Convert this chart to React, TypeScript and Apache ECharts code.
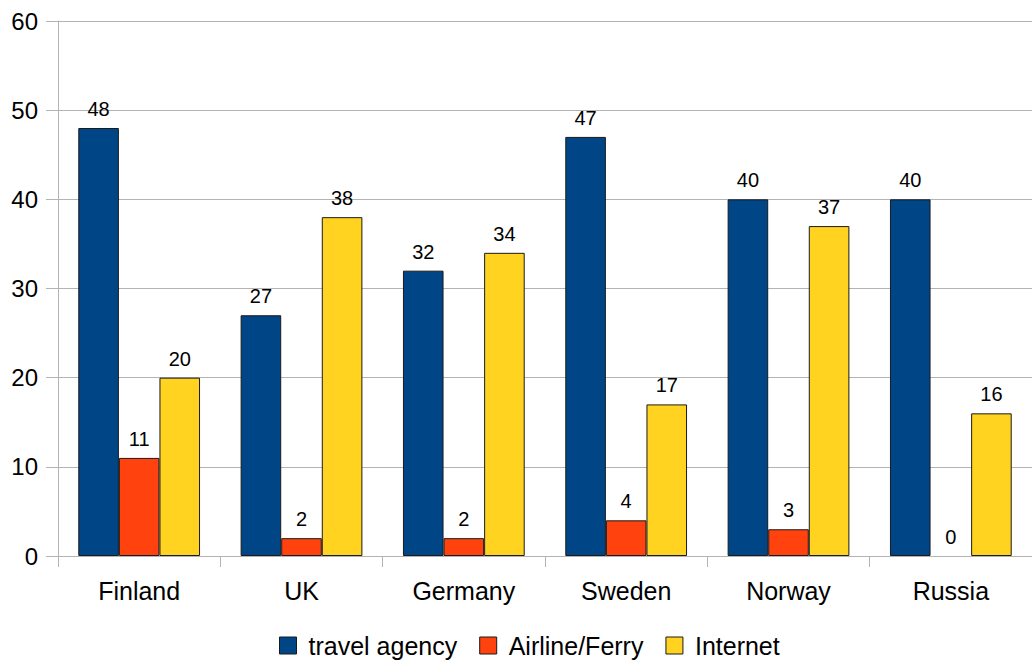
import React, { useEffect, useRef } from "react";
import * as echarts from "echarts";

const categories = ["Finland", "UK", "Germany", "Sweden", "Norway", "Russia"];
const travelAgency = [48, 27, 32, 47, 40, 40];
const airlineFerry = [11, 2, 2, 4, 3, 0];
const internet = [20, 38, 34, 17, 37, 16];
const seriesNames = ["travel agency", "Airline/Ferry", "Internet"];
const colors = ["#004586", "#ff420e", "#ffd320"];

export default function App() {
  const ref = useRef<HTMLDivElement>(null);
  useEffect(() => {
    if (!ref.current) return;
    const chart = echarts.init(ref.current, undefined, { renderer: "svg" });
    const font = "'Liberation Sans', Arial, sans-serif";
    const mk = (name: string, data: number[], color: string) => ({
      name,
      type: "bar",
      data: data.map((v) => (v === 0 ? { value: v, itemStyle: { borderWidth: 0 } } : v)),
      barGap: "0%",
      barCategoryGap: "25%",
      itemStyle: { color, borderColor: "#1a1a1a", borderWidth: 1 },
      label: {
        show: true,
        position: "top",
        distance: 9,
        color: "#000",
        fontSize: 20,
        fontFamily: font,
      },
    });
    chart.setOption({
      animation: false,
      textStyle: { fontFamily: font },
      grid: { left: 58, width: 978, top: 21, bottom: 108, containLabel: false },
      legend: {
        data: seriesNames,
        left: 274,
        top: 628,
        itemWidth: 17,
        itemHeight: 17,
        itemGap: 22,
        icon: "rect",
        itemStyle: { borderColor: "#1a1a1a", borderWidth: 1 },
        textStyle: { fontSize: 25, color: "#000", fontFamily: font, padding: [0, 0, 0, 7] },
      },
      xAxis: {
        type: "category",
        data: categories,
        axisLine: { show: true, lineStyle: { color: "#b3b3b3", width: 1 } },
        axisTick: { show: true, length: 11, interval: 0, alignWithLabel: false, lineStyle: { color: "#b3b3b3" } },
        axisLabel: { color: "#000", fontSize: 25, margin: 22, fontFamily: font, interval: 0 },
      },
      yAxis: {
        type: "value",
        min: 0,
        max: 60,
        interval: 10,
        axisLine: { show: true, lineStyle: { color: "#b3b3b3", width: 1 } },
        axisTick: { show: true, length: 12, inside: false, lineStyle: { color: "#b3b3b3" } },
        axisLabel: { color: "#000", fontSize: 24, margin: 20, fontFamily: font },
        splitLine: { show: true, lineStyle: { color: "#b3b3b3", width: 1 } },
      },
      series: [
        mk(seriesNames[0], travelAgency, colors[0]),
        mk(seriesNames[1], airlineFerry, colors[1]),
        mk(seriesNames[2], internet, colors[2]),
      ],
    });
    return () => chart.dispose();
  }, []);
  return (
    <div
      ref={ref}
      style={{ position: "fixed", left: 0, top: 0, width: 1032, height: 664, background: "#fff", overflow: "hidden" }}
    />
  );
}
